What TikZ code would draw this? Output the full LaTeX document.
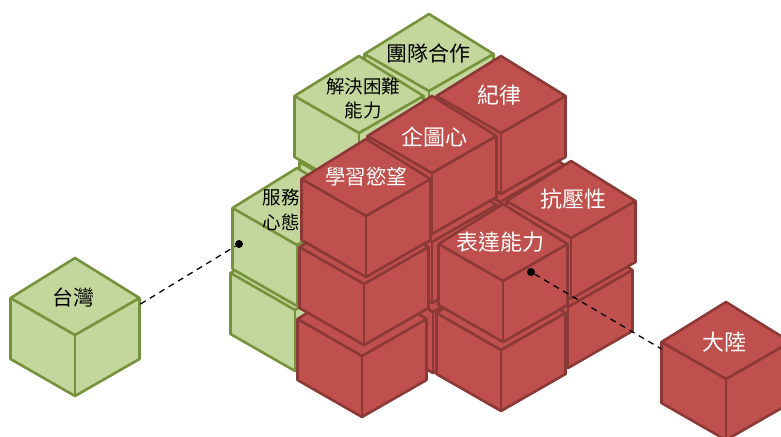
\documentclass[tikz,border=0pt]{standalone}
\usepackage{fontspec}
\setmainfont{Noto Sans CJK TC}
\usepackage{tikz}

\definecolor{greenfill}{HTML}{C3D69B}
\definecolor{greenline}{HTML}{76923C}
\definecolor{redfill}{HTML}{C0504D}
\definecolor{redline}{HTML}{8C3836}

\tikzset{
    greencube/.style={draw=greenline,fill=greenfill,line width=2.6pt,line join=round},
    redcube/.style={draw=redline,fill=redfill,line width=2.6pt,line join=round},
    blacklabel/.style={text=black,font=\fontsize{21}{25}\selectfont,align=center,inner sep=0pt},
    whitelabel/.style={text=white,font=\fontsize{22}{25}\selectfont,align=center,inner sep=0pt},
    linkdot/.style={circle,fill=black,inner sep=0pt,minimum size=8pt},
    linkline/.style={line width=1.3pt,black,dash pattern=on 6pt off 5pt}
}

% name, x and y of the top corner, style
\newcommand{\cube}[4]{
    \draw[#4] (#2,#3) -- ++(-64.5,40) -- ++(0,61) -- ++(64.5,37) -- ++(64.5,-37) -- ++(0,-61) -- cycle;
    \draw[#4,fill=none] (#2-64.5,#3+40) -- ++(64.5,37) -- ++(64.5,-37);
    \draw[#4,fill=none] (#2,#3+77) -- ++(0,61);
    \coordinate (#1) at (#2,#3+39);
    \coordinate (#1left) at (#2-64.5,#3+40);
    \coordinate (#1right) at (#2+64.5,#3+40);
}

\begin{document}
\begin{tikzpicture}[x=1pt,y=-1pt]
    \useasboundingbox (0,0) rectangle (781,436);

    \cube{taiwan}{75}{258}{greencube}
    \node[blacklabel] (taiwantext) at (73,297) {台灣};

    % green stacks
    \cube{team}{429}{14}{greencube}
    \node[blacklabel] (teamtext) at (428,53) {團隊合作};
    \cube{solvelow}{364}{122}{greencube}
    \cube{solve}{359}{56}{greencube}
    \node[blacklabel,font=\fontsize{18.5}{24}\selectfont] (solvetext) at (363,98) {解決困難\\能力};
    \cube{servelow}{295}{233}{greencube}
    \cube{serve}{297}{168}{greencube}
    \node[blacklabel,font=\fontsize{18.5}{25}\selectfont] (servetext) at (281,210) {服務\\心態};

    % red stacks, back to front
    \cube{rulelow}{500}{125}{redcube}
    \cube{rule}{501}{56}{redcube}
    \node[whitelabel] (ruletext) at (499,95) {紀律};
    \cube{driveb}{433}{235}{redcube}
    \cube{drivea}{432}{165}{redcube}
    \cube{drive}{432}{96}{redcube}
    \node[whitelabel] (drivetext) at (434,137) {企圖心};
    \cube{stresslow}{568}{230}{redcube}
    \cube{stress}{571}{161}{redcube}
    \node[whitelabel] (stresstext) at (573,199) {抗壓性};
    \cube{learnb}{362}{279}{redcube}
    \cube{learna}{364}{207}{redcube}
    \cube{learn}{366}{139}{redcube}
    \node[whitelabel,font=\fontsize{20.5}{25}\selectfont] (learntext) at (366,177) {學習慾望};
    \cube{speaklow}{501}{273}{redcube}
    \cube{speak}{503}{204}{redcube}
    \node[whitelabel] (speaktext) at (500,242) {表達能力};

    \cube{china}{726}{302}{redcube}
    \node[whitelabel] (chinatext) at (724,342) {大陸};

    % links
    \node[linkdot] (servedot) at (239,244) {};
    \node[linkdot] (speakdot) at (531,272) {};
    \coordinate (chinaend) at ([yshift=-7pt]chinaleft);
    \draw[linkline] (taiwanright) ++(1,6) -- (servedot);
    \draw[linkline] (speakdot) -- (chinaend);
\end{tikzpicture}
\end{document}
